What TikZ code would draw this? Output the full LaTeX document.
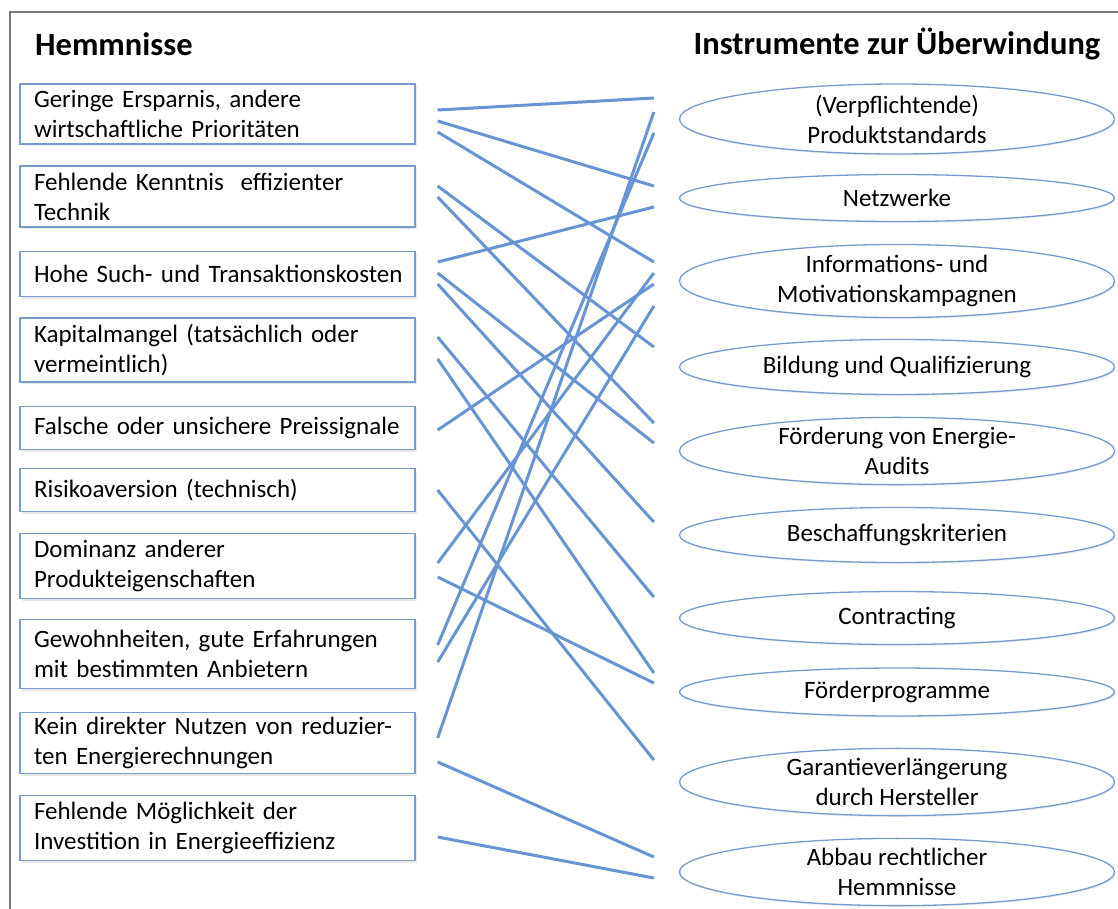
\documentclass[tikz,border=0pt]{standalone}
\usepackage{fontspec}
\setmainfont{Carlito}
\usetikzlibrary{calc,shapes.geometric,shadows}
\definecolor{edgeblue}{RGB}{120,155,205}
\definecolor{linkblue}{RGB}{105,148,212}
\definecolor{framegray}{RGB}{120,120,120}
\tikzset{
  hbox/.style={draw=edgeblue, line width=1.3pt, fill=white, minimum width=395pt,
    text width=367pt, align=left, inner sep=0pt,
    font=\fontsize{25}{30}\selectfont,
    drop shadow={opacity=0.18, shadow xshift=1.5pt, shadow yshift=-2pt}},
  ibox/.style={ellipse, draw=edgeblue, line width=1.3pt, fill=white, minimum width=435pt,
    inner sep=0pt, align=center, font=\fontsize{25}{30}\selectfont,
    drop shadow={opacity=0.15, shadow xshift=1pt, shadow yshift=-1.5pt}},
  heading/.style={font=\fontsize{32.5}{36}\selectfont\bfseries, inner sep=0pt},
  conn/.style={draw=linkblue, line width=3pt},
  frameline/.style={draw=framegray, line width=2pt}
}
\begin{document}
\begin{tikzpicture}[x=1pt,y=-1pt]
\useasboundingbox (0,0) rectangle (1118,908);
\fill[white] (0,0) rectangle (1118,908);
% outer frame (open to the right and bottom)
\draw[frameline] (10,912) -- (10,12) -- (1122,12);

% headings
\node[heading, anchor=west] (hh) at (35,44) {Hemmnisse};
\node[heading] (ih) at (897,44) {Instrumente zur Überwindung};

% obstacles
\node[hbox, minimum height=60pt] (h1) at (217.5,114) {Geringe Ersparnis, andere\\wirtschaftliche Prioritäten};
\node[hbox, minimum height=61pt] (h2) at (217.5,196.5) {Fehlende Kenntnis\ \ effizienter\\Technik};
\node[hbox, minimum height=45pt] (h3) at (217.5,274) {\mbox{Hohe Such- und Transaktionskosten}};
\node[hbox, minimum height=64pt] (h4) at (217.5,350) {Kapitalmangel (tatsächlich oder\\vermeintlich)};
\node[hbox, minimum height=43pt] (h5) at (217.5,428) {Falsche oder unsichere Preissignale};
\node[hbox, minimum height=43pt] (h6) at (217.5,490) {Risikoaversion (technisch)};
\node[hbox, minimum height=65pt] (h7) at (217.5,566) {Dominanz anderer\\Produkteigenschaften};
\node[hbox, minimum height=69pt] (h8) at (217.5,654) {Gewohnheiten, gute Erfahrungen\\mit bestimmten Anbietern};
\node[hbox, minimum height=61pt] (h9) at (217.5,743) {Kein direkter Nutzen von reduzier-\\ten Energierechnungen};
\node[hbox, minimum height=65pt] (h10) at (217.5,828) {Fehlende Möglichkeit der\\Investition in Energieeffizienz};

% instruments
\node[ibox, minimum height=70pt] (i1) at (897,119) {(Verpflichtende)\\Produktstandards};
\node[ibox, minimum height=47pt] (i2) at (897,198) {Netzwerke};
\node[ibox, minimum height=70pt] (i3) at (897,281) {Informations- und\\Motivationskampagnen};
\node[ibox, minimum height=55pt] (i4) at (897,367) {Bildung und Qualifizierung};
\node[ibox, minimum height=65pt] (i5) at (897,451) {Förderung von Energie-\\Audits};
\node[ibox, minimum height=55pt] (i6) at (897,535) {Beschaffungskriterien};
\node[ibox, minimum height=53pt] (i7) at (897,618) {Contracting};
\node[ibox, minimum height=48pt] (i8) at (897,692) {Förderprogramme};
\node[ibox, minimum height=65pt] (i9) at (897,782) {Garantieverlängerung\\durch Hersteller};
\node[ibox, minimum height=60pt] (i10) at (897,872) {Abbau rechtlicher\\Hemmnisse};

% connectors
\draw[conn] ($(h1.east)+(22,-4)$) -- ($(i1.west)+(-25,-21)$);
\draw[conn] ($(h1.east)+(22,7)$) -- ($(i2.west)+(-25,-12)$);
\draw[conn] ($(h1.east)+(22,18)$) -- ($(i3.west)+(-25,-19)$);
\draw[conn] ($(h2.east)+(22,-10.5)$) -- ($(i4.west)+(-25,-20)$);
\draw[conn] ($(h2.east)+(22,0.5)$) -- ($(i5.west)+(-25,-28)$);
\draw[conn] ($(h3.east)+(22,-12)$) -- ($(i2.west)+(-25,9)$);
\draw[conn] ($(h3.east)+(22,-1)$) -- ($(i5.west)+(-25,-8)$);
\draw[conn] ($(h3.east)+(22,10)$) -- ($(i6.west)+(-25,-13)$);
\draw[conn] ($(h4.east)+(22,-13)$) -- ($(i7.west)+(-25,-21)$);
\draw[conn] ($(h4.east)+(22,9)$) -- ($(i8.west)+(-25,-19)$);
\draw[conn] ($(h5.east)+(22,2)$) -- ($(i3.west)+(-25,3)$);
\draw[conn] ($(h6.east)+(22,0)$) -- ($(i9.west)+(-25,-22)$);
\draw[conn] ($(h7.east)+(22,-3)$) -- ($(i3.west)+(-25,-8)$);
\draw[conn] ($(h7.east)+(22,11)$) -- ($(i8.west)+(-25,-9)$);
\draw[conn] ($(h8.east)+(22,-9)$) -- ($(i1.west)+(-25,14)$);
\draw[conn] ($(h8.east)+(22,8)$) -- ($(i3.west)+(-25,25)$);
\draw[conn] ($(h9.east)+(22,-5)$) -- ($(i1.west)+(-25,-7)$);
\draw[conn] ($(h9.east)+(22,19)$) -- ($(i10.west)+(-25,-15)$);
\draw[conn] ($(h10.east)+(22,9)$) -- ($(i10.west)+(-25,6)$);
\end{tikzpicture}
\end{document}
